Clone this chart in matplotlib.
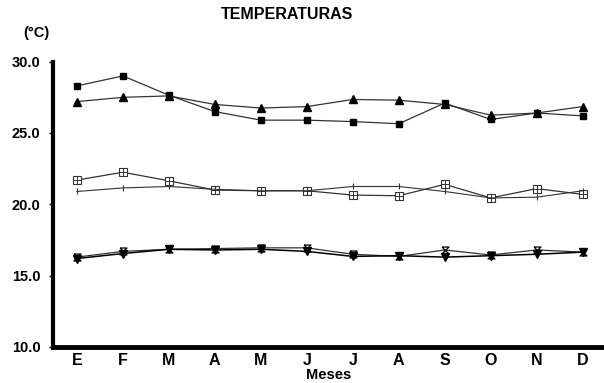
import numpy as np
import matplotlib
matplotlib.use("Agg")
import matplotlib.pyplot as plt

plt.rcParams["font.family"] = ["Liberation Sans", "DejaVu Sans"]
plt.rcParams["font.weight"] = "bold"

meses = ["E", "F", "M", "A", "M", "J", "J", "A", "S", "O", "N", "D"]

# series (°C)
cuadrado = [28.3, 29.0, 27.65, 26.5, 25.9, 25.9, 25.8, 25.65, 27.1, 25.95, 26.4, 26.2]
triangulo = [27.2, 27.5, 27.6, 27.0, 26.75, 26.85, 27.35, 27.3, 27.0, 26.25, 26.4, 26.85]
cuad_cruz = [21.7, 22.25, 21.65, 21.0, 20.95, 20.95, 20.65, 20.6, 21.4, 20.45, 21.1, 20.7]
cruz = [20.9, 21.15, 21.25, 21.05, 20.95, 20.95, 21.25, 21.25, 20.9, 20.45, 20.5, 20.95]
reloj = [16.3, 16.7, 16.85, 16.9, 16.95, 16.95, 16.5, 16.35, 16.8, 16.45, 16.8, 16.65]
tri_inv = [16.2, 16.55, 16.85, 16.8, 16.85, 16.7, 16.35, 16.4, 16.3, 16.4, 16.5, 16.65]

x = np.arange(len(meses))

fig = plt.figure(figsize=(6.04, 3.83), dpi=100)
ax = fig.add_axes([0.0877, 0.094, 0.912, 0.745])

lc = "#333333"
ax.plot(x, cuadrado, color=lc, lw=0.9, marker="s", ms=5, mfc="black", mec="black")
ax.plot(x, triangulo, color=lc, lw=0.9, marker="^", ms=5.5, mfc="black", mec="black")
ax.plot(x, cuad_cruz, color=lc, lw=0.9, marker="s", ms=6, mfc="white", mec=lc, mew=0.8)
ax.plot(x, cuad_cruz, color=lc, lw=0, marker="+", ms=6, mec=lc, mew=0.7)
ax.plot(x, cruz, color=lc, lw=0.8, marker="|", ms=4, mec=lc, mew=0.8)
reloj_m = [(-1, 1), (1, 1), (-1, -1), (1, -1), (-1, 1)]
ax.plot(x, reloj, color=lc, lw=0.9, marker=reloj_m, ms=5, mfc="white", mec="black", mew=0.9)
ax.plot(x, tri_inv, color="black", lw=1.1, marker="v", ms=5.5, mfc="black", mec="black")

ax.set_xlim(-0.52, 11.46)
ax.set_ylim(10, 30)
ax.set_yticks([10, 15, 20, 25, 30])
ax.set_yticklabels(["10.0", "15.0", "20.0", "25.0", "30.0"], fontsize=10.5, fontweight="bold")
ax.set_xticks(x)
ax.set_xticklabels(meses, fontsize=11.5, fontweight="bold")
ax.tick_params(axis="y", length=3, width=1, direction="out", pad=6)
ax.tick_params(axis="x", length=0, pad=4)

ax.spines["top"].set_visible(False)
ax.spines["right"].set_visible(False)
ax.spines["left"].set_linewidth(3)
ax.spines["bottom"].set_linewidth(3.5)

ax.set_xlabel("Meses", fontsize=10.5, fontweight="bold", labelpad=0)
fig.text(0.475, 0.962, "TEMPERATURAS", ha="center", va="center", fontsize=11.5, fontweight="bold")
fig.text(0.06, 0.913, "(°C)", ha="center", va="center", fontsize=10.5, fontweight="bold")

fig.savefig("out.png", dpi=100)
